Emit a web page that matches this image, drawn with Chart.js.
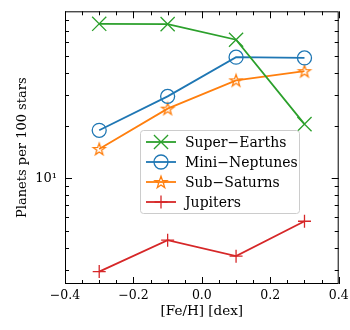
<!DOCTYPE html>
<html>
<head>
<meta charset="utf-8">
<script src="https://cdn.jsdelivr.net/npm/chart.js@4.4.1/dist/chart.umd.min.js"></script>
<style>
  body { margin: 0; background: #fff; }
</style>
</head>
<body>
<canvas id="myChart" width="350" height="330"></canvas>
<script>
// Occurrence rates vs metallicity
const fehBins = [-0.3, -0.1, 0.1, 0.3];
const superEarths = [76.5, 76.2, 62.0, 20.4];
const miniNeptunes = [18.8, 29.4, 49.3, 48.8];
const subSaturns = [14.7, 25.0, 36.3, 41.0];
const jupiters = [2.92, 4.42, 3.58, 5.67];
const seriesNames = ["Super\u2212Earths", "Mini\u2212Neptunes", "Sub\u2212Saturns", "Jupiters"];
const yTickValues = [3, 4, 5, 6, 7, 8, 9, 10, 20, 30, 40, 50, 60, 70, 80];

const FONT = "'DejaVu Serif', serif";

// hollow star marker
function makeStar(color) {
  const c = document.createElement("canvas");
  c.width = 18; c.height = 18;
  const g = c.getContext("2d");
  g.strokeStyle = color;
  g.lineWidth = 1.3;
  g.beginPath();
  for (let i = 0; i < 10; i++) {
    const r = i % 2 === 0 ? 6.3 : 2.5;
    const a = -Math.PI / 2 + i * Math.PI / 5;
    const px = 9 + r * Math.cos(a), py = 9.5 + r * Math.sin(a);
    if (i === 0) g.moveTo(px, py); else g.lineTo(px, py);
  }
  g.closePath();
  g.stroke();
  return c;
}

const toPoints = (arr) => fehBins.map((x, i) => ({ x: x, y: arr[i] }));

const datasets = [
  { label: seriesNames[0], data: toPoints(superEarths), borderColor: "#2ca02c",
    pointStyle: "crossRot", pointRadius: 10, pointBorderWidth: 1.3 },
  { label: seriesNames[1], data: toPoints(miniNeptunes), borderColor: "#1f77b4",
    pointStyle: "circle", pointRadius: 7, pointBorderWidth: 1.3 },
  { label: seriesNames[2], data: toPoints(subSaturns), borderColor: "#ff7f0e",
    pointStyle: makeStar("#ff7f0e"), pointRadius: 6, pointBorderWidth: 1.3 },
  { label: seriesNames[3], data: toPoints(jupiters), borderColor: "#d62728",
    pointStyle: "cross", pointRadius: 6.5, pointBorderWidth: 1.3 },
].map((d) => Object.assign(d, {
  borderWidth: 1.8,
  pointBorderColor: d.borderColor,
  pointBackgroundColor: "rgba(0,0,0,0)",
  backgroundColor: "rgba(0,0,0,0)",
  tension: 0,
}));

const isMajorX = (v) => Math.abs(v / 0.2 - Math.round(v / 0.2)) < 1e-6;

// inward ticks on all four sides + frame
const frameTicks = {
  id: "frameTicks",
  afterDatasetsDraw(chart) {
    const { ctx, chartArea: a, scales: { x, y } } = chart;
    ctx.save();
    ctx.strokeStyle = "#000";
    ctx.lineWidth = 1;
    ctx.beginPath();
    x.ticks.forEach((t) => {
      const px = Math.round(x.getPixelForValue(t.value)) + 0.5;
      const len = isMajorX(t.value) ? 7 : 4;
      ctx.moveTo(px, a.bottom); ctx.lineTo(px, a.bottom - len);
      ctx.moveTo(px, a.top); ctx.lineTo(px, a.top + len);
    });
    y.ticks.forEach((t) => {
      const py = Math.round(y.getPixelForValue(t.value)) + 0.5;
      const len = t.value === 10 ? 7 : 4;
      ctx.moveTo(a.left, py); ctx.lineTo(a.left + len, py);
      ctx.moveTo(a.right, py); ctx.lineTo(a.right - len, py);
    });
    ctx.stroke();
    ctx.strokeRect(a.left + 0.5, a.top + 0.5, a.right - a.left - 1, a.bottom - a.top - 1);
    ctx.restore();
  },
};

// matplotlib-like legend box
const boxLegend = {
  id: "boxLegend",
  afterDraw(chart) {
    const ctx = chart.ctx;
    const bx = 140, by = 130, bw = 159, bh = 83;
    ctx.save();
    ctx.fillStyle = "rgba(255,255,255,0.85)";
    ctx.strokeStyle = "#cccccc";
    ctx.lineWidth = 1;
    ctx.beginPath();
    ctx.roundRect(bx + 0.5, by + 0.5, bw, bh, 3);
    ctx.fill();
    ctx.stroke();
    chart.data.datasets.forEach((d, i) => {
      const cy = by + 12 + i * 20;
      ctx.strokeStyle = d.borderColor;
      ctx.lineWidth = d.borderWidth;
      ctx.beginPath();
      ctx.moveTo(146, cy); ctx.lineTo(176, cy);
      ctx.stroke();
      ctx.lineWidth = d.pointBorderWidth;
      ctx.fillStyle = "rgba(0,0,0,0)";
      Chart.helpers.drawPoint(ctx, {
        pointStyle: d.pointStyle, radius: d.pointRadius,
        borderWidth: d.pointBorderWidth, rotation: 0,
      }, 161, cy);
      ctx.fillStyle = "#000";
      ctx.font = "14px " + FONT;
      ctx.textBaseline = "middle";
      ctx.textAlign = "left";
      ctx.fillText(d.label, 185, cy + 1);
    });
    ctx.restore();
  },
};

new Chart(document.getElementById("myChart"), {
  type: "line",
  data: { datasets: datasets },
  options: {
    responsive: false,
    animation: false,
    layout: { padding: { top: 10, right: 10, left: 0, bottom: 0 } },
    plugins: { legend: { display: false }, tooltip: { enabled: false } },
    scales: {
      x: {
        type: "linear",
        min: -0.4,
        max: 0.4,
        grid: { display: false, drawTicks: false },
        border: { display: false },
        ticks: {
          stepSize: 0.05,
          autoSkip: false,
          maxRotation: 0,
          padding: 4,
          color: "#000",
          font: { family: FONT, size: 12.5 },
          callback: (v) => (isMajorX(v) ? v.toFixed(1).replace("-", "\u2212") : ""),
        },
        title: {
          display: true,
          text: "[Fe/H] [dex]",
          color: "#000",
          font: { family: FONT, size: 13.5 },
          padding: { top: 0, bottom: 10 },
        },
        afterFit: (s) => { s.height = 46; s.paddingLeft = 0; s.paddingRight = 0; },
      },
      y: {
        type: "logarithmic",
        min: 2.48,
        max: 90.2,
        grid: { display: false, drawTicks: false },
        border: { display: false },
        afterBuildTicks: (s) => {
          s.ticks = yTickValues.map((v) => ({ value: v, major: v === 10 }));
        },
        ticks: {
          autoSkip: false,
          padding: 8,
          color: "#000",
          font: { family: FONT, size: 13 },
          callback: (v) => (v === 10 ? "10\u00b9" : ""),
        },
        title: {
          display: true,
          text: "Planets per 100 stars",
          color: "#000",
          font: { family: FONT, size: 13 },
          padding: { top: 15, bottom: 0 },
        },
        afterFit: (s) => { s.width = 65; s.paddingTop = 0; s.paddingBottom = 0; },
      },
    },
  },
  plugins: [frameTicks, boxLegend],
});
</script>
</body>
</html>
